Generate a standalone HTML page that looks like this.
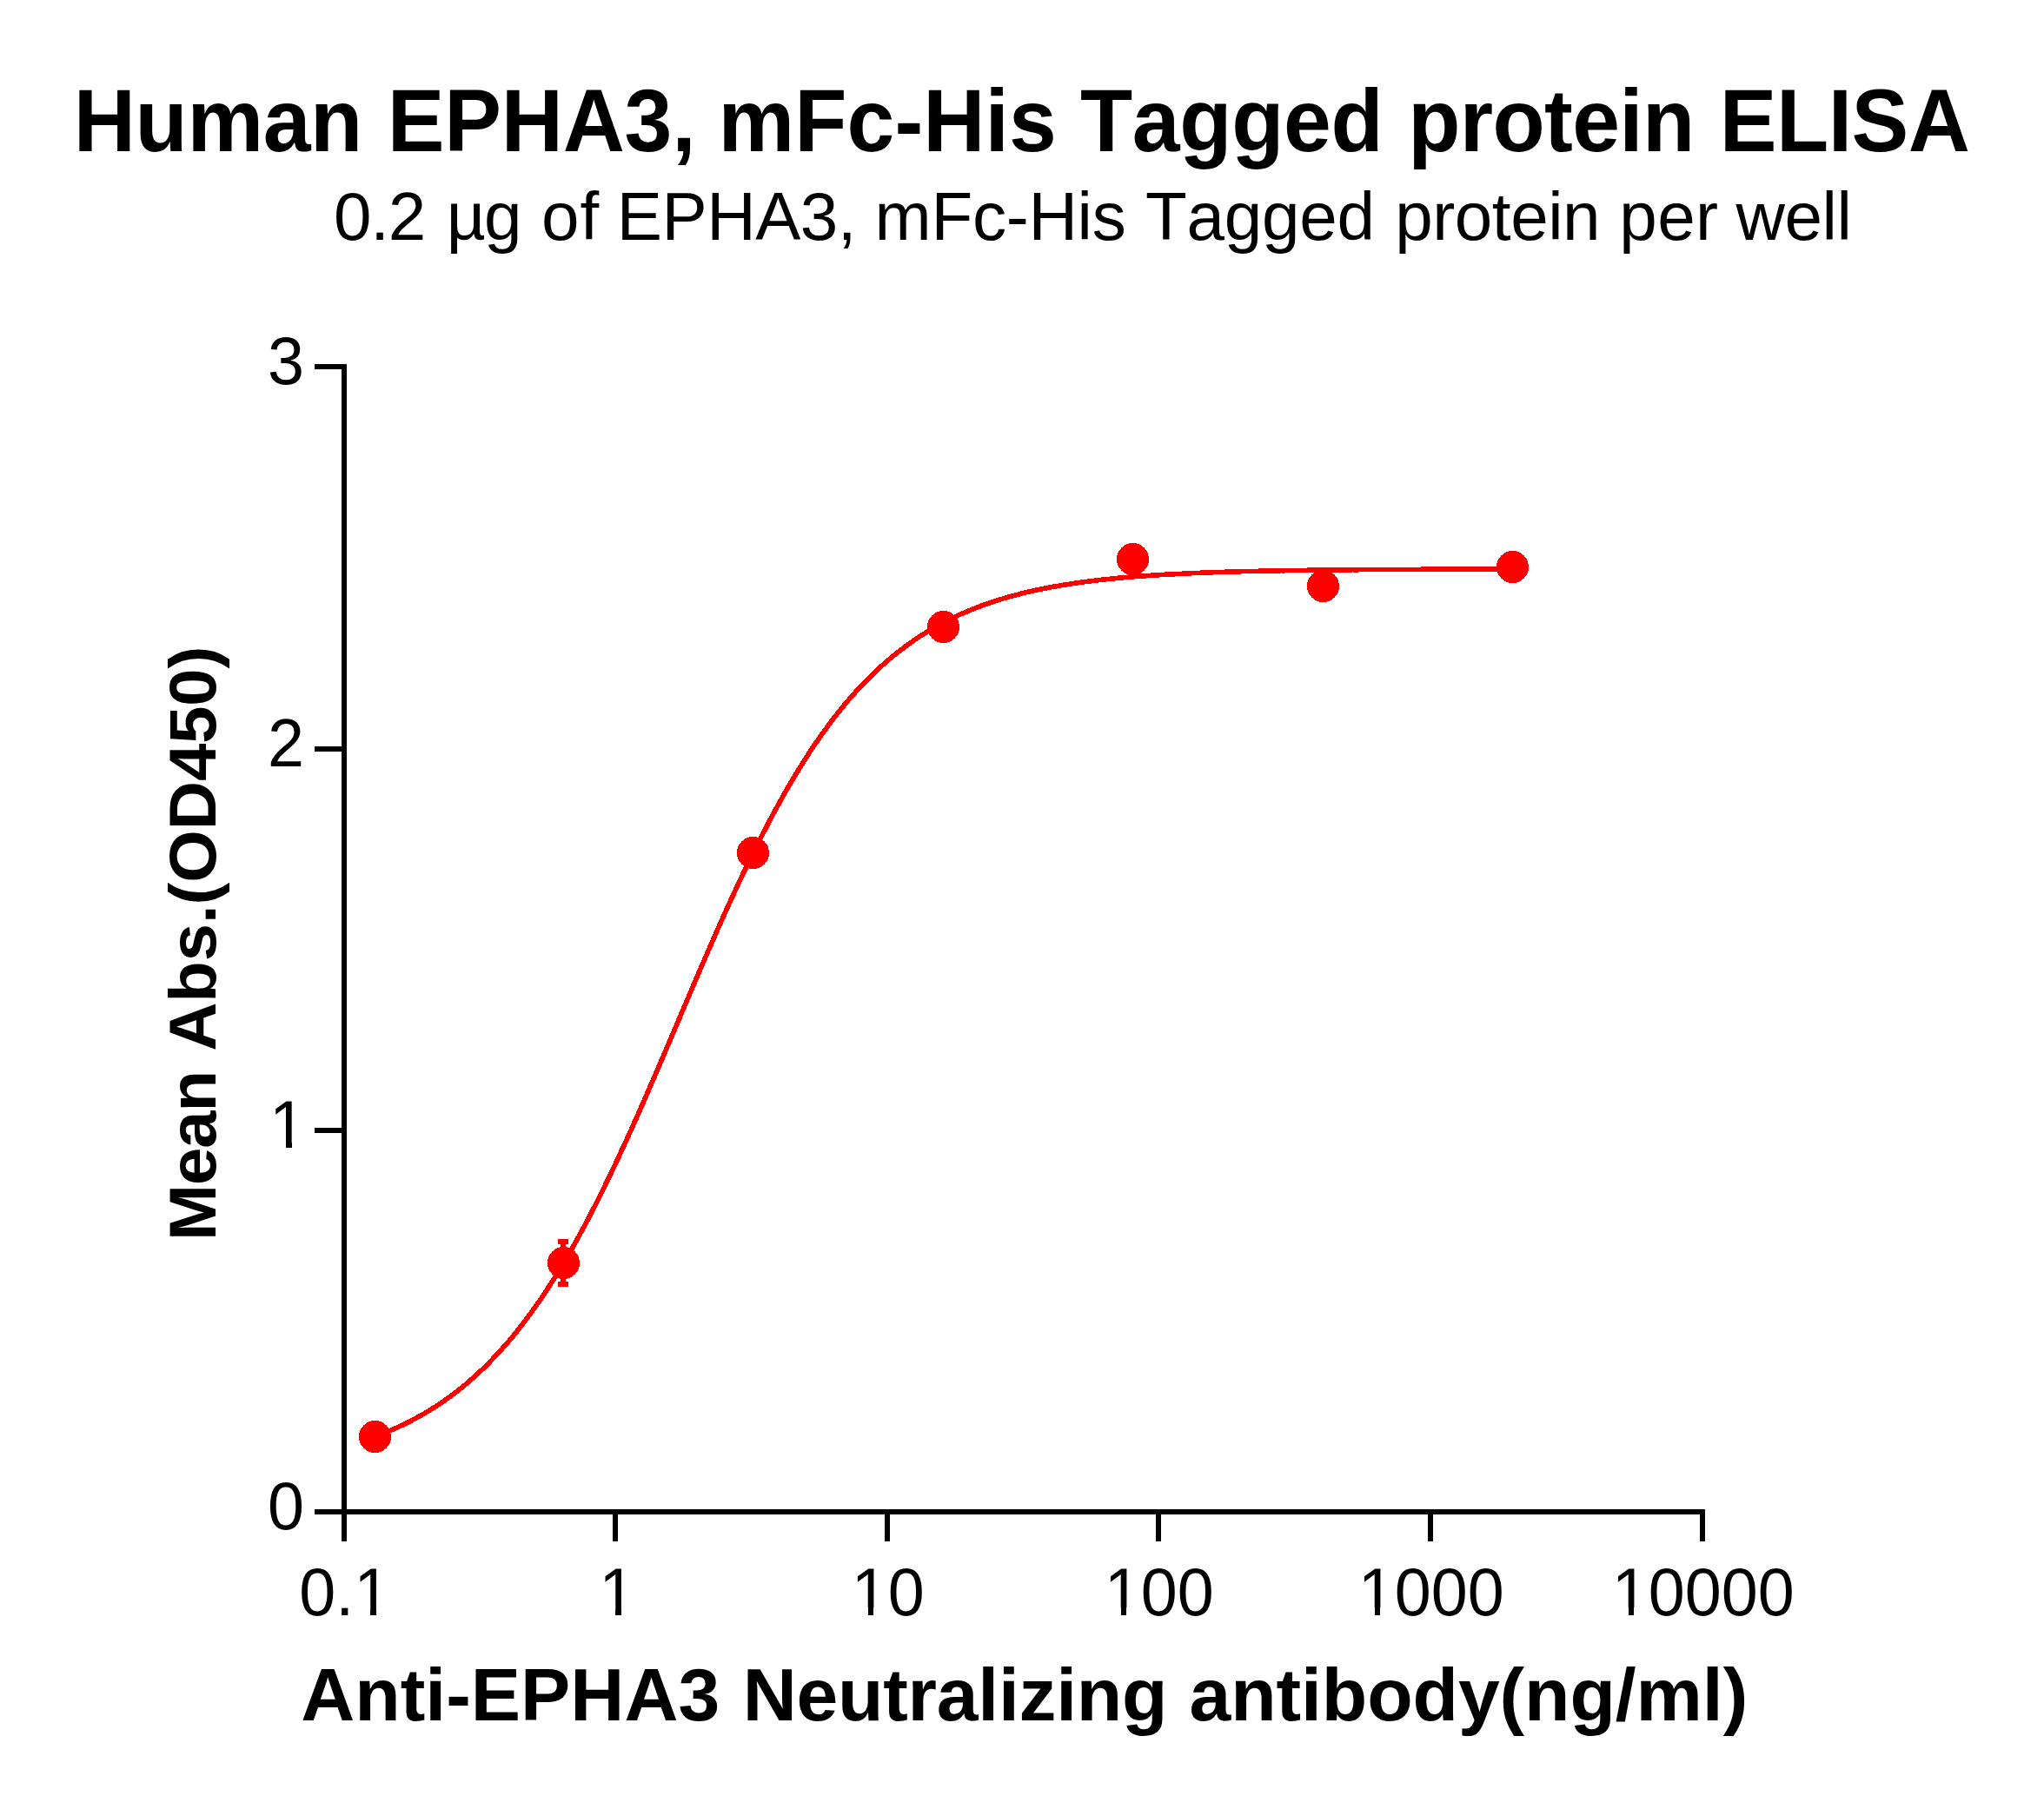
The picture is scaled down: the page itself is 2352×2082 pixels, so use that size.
<!DOCTYPE html>
<html lang="en"><head><meta charset="utf-8"><title>Human EPHA3, mFc-His Tagged protein ELISA</title>
<style>
html,body{margin:0;padding:0;background:#fff}
body{width:2352px;height:2082px;overflow:hidden}
svg{display:block}
text{font-family:"Liberation Sans",sans-serif;fill:#000;white-space:pre;font-kerning:none}
.ax{fill:#000;shape-rendering:crispEdges}
.red{shape-rendering:crispEdges}
</style></head><body>
<svg width="2352" height="2082" viewBox="0 0 2352 2082">
<rect width="2352" height="2082" fill="#fff"/>
<text transform="translate(0,174) scale(1,1.035)" font-size="98.6" font-weight="bold"><tspan x="84.8" letter-spacing="-0.4">Human </tspan><tspan x="445.8" letter-spacing="-0.28">EPHA3, </tspan><tspan x="826.6" letter-spacing="0.033">mFc-His </tspan><tspan x="1243.0" letter-spacing="-0.38">Tagged </tspan><tspan x="1620.2" letter-spacing="-0.667">protein </tspan><tspan x="1978.8" letter-spacing="-0.55">ELISA</tspan></text>
<text transform="translate(0,276) scale(1,0.985)" font-size="78.2" font-weight="normal"><tspan x="384.0" letter-spacing="-1.25">0.2 </tspan><tspan x="513.8" letter-spacing="-1.8">µg </tspan><tspan x="622.9" letter-spacing="1.0">of </tspan><tspan x="709.8" letter-spacing="-0.48">EPHA3, </tspan><tspan x="1006.6" letter-spacing="-0.3">mFc-His </tspan><tspan x="1318.1" letter-spacing="-0.26">Tagged </tspan><tspan x="1605.2" letter-spacing="-0.45">protein </tspan><tspan x="1863.3" letter-spacing="0.35">per </tspan><tspan x="1997.4" letter-spacing="-0.367">well</tspan></text>
<text transform="translate(0,1979.8) scale(1,0.99)" font-size="85.9" font-weight="bold"><tspan x="346.3" letter-spacing="-0.011">Anti-EPHA3 </tspan><tspan x="854.7" letter-spacing="-0.245">Neutralizing </tspan><tspan x="1368.5" letter-spacing="-0.1">antibody(ng/ml)</tspan></text>
<text transform="translate(248.1,1423) rotate(-90) scale(1,0.98)" font-size="77.9" font-weight="bold"><tspan x="-5.0" letter-spacing="-0.967">Mean </tspan><tspan x="213.2" letter-spacing="-0.12">Abs.(OD450)</tspan></text>
<g class="ax">
<rect x="393" y="419" width="6" height="1355"/>
<rect x="362" y="1737" width="1600" height="6"/>
<rect x="362" y="1298" width="31" height="6"/>
<rect x="362" y="859" width="31" height="6"/>
<rect x="362" y="419" width="31" height="6"/>
<rect x="705" y="1743" width="6" height="31"/>
<rect x="1018" y="1743" width="6" height="31"/>
<rect x="1330" y="1743" width="6" height="31"/>
<rect x="1643" y="1743" width="6" height="31"/>
<rect x="1956" y="1743" width="6" height="31"/>
</g>
<text transform="translate(350,1760) scale(1,1.03)" font-size="75.5" text-anchor="end">0</text>
<text transform="translate(352,1321) scale(1,1.03)" font-size="75.5" text-anchor="end">1</text>
<text transform="translate(350,882) scale(1,1.03)" font-size="75.5" text-anchor="end">2</text>
<text transform="translate(350,442) scale(1,1.03)" font-size="75.5" text-anchor="end">3</text>
<text transform="translate(396.8,1859.3) scale(1,1.03)" font-size="75.5" text-anchor="middle">0.1</text>
<text transform="translate(710.3,1859.3) scale(1,1.03)" font-size="75.5" text-anchor="middle">1</text>
<text transform="translate(1021.8,1859.3) scale(1,1.03)" font-size="75.5" text-anchor="middle">10</text>
<text transform="translate(1333.8,1859.3) scale(1,1.03)" font-size="75.5" text-anchor="middle">100</text>
<text transform="translate(1646.8,1859.3) scale(1,1.03)" font-size="75.5" text-anchor="middle">1000</text>
<text transform="translate(1959.8,1859.3) scale(1,1.03)" font-size="75.5" text-anchor="middle">10000</text>
<g fill="#fff"><rect x="411" y="1850" width="15" height="14"/><rect x="433" y="1850" width="15" height="14"/><rect x="693" y="1850" width="15" height="14"/><rect x="715" y="1850" width="15" height="14"/><rect x="983" y="1850" width="16" height="14"/><rect x="1005" y="1850" width="15" height="14"/><rect x="1274" y="1850" width="16" height="14"/><rect x="1296" y="1850" width="15" height="14"/><rect x="1566" y="1850" width="16" height="14"/><rect x="1588" y="1850" width="15" height="14"/><rect x="1858" y="1850" width="16" height="14"/><rect x="1880" y="1850" width="15" height="14"/><rect x="313" y="1311" width="16" height="14"/><rect x="336" y="1311" width="15" height="14"/></g>
<g class="red" fill="#f00" stroke="none">
<path d="M431.5,1653.4 L434.8,1652.2 L438.1,1650.9 L441.3,1649.6 L444.6,1648.3 L447.9,1646.9 L451.2,1645.5 L454.5,1644.1 L457.7,1642.6 L461.0,1641.1 L464.3,1639.5 L467.6,1637.9 L470.9,1636.2 L474.1,1634.6 L477.4,1632.8 L480.7,1631.0 L484.0,1629.2 L487.3,1627.3 L490.6,1625.4 L493.8,1623.4 L497.1,1621.4 L500.4,1619.3 L503.7,1617.2 L507.0,1615.0 L510.2,1612.8 L513.5,1610.5 L516.8,1608.1 L520.1,1605.7 L523.4,1603.2 L526.6,1600.7 L529.9,1598.1 L533.2,1595.4 L536.5,1592.7 L539.8,1589.9 L543.0,1587.0 L546.3,1584.1 L549.6,1581.1 L552.9,1578.0 L556.2,1574.9 L559.4,1571.7 L562.7,1568.4 L566.0,1565.0 L569.3,1561.6 L572.6,1558.1 L575.9,1554.5 L579.1,1550.8 L582.4,1547.1 L585.7,1543.3 L589.0,1539.4 L592.3,1535.4 L595.5,1531.3 L598.8,1527.1 L602.1,1522.9 L605.4,1518.6 L608.7,1514.2 L611.9,1509.7 L615.2,1505.1 L618.5,1500.4 L621.8,1495.7 L625.1,1490.8 L628.3,1485.9 L631.6,1480.9 L634.9,1475.7 L638.2,1470.5 L641.5,1465.3 L644.7,1459.9 L648.0,1454.4 L651.3,1448.9 L654.6,1443.2 L657.9,1437.5 L661.1,1431.7 L664.4,1425.8 L667.7,1419.8 L671.0,1413.7 L674.3,1407.6 L677.6,1401.4 L680.8,1395.0 L684.1,1388.7 L687.4,1382.2 L690.7,1375.6 L694.0,1369.0 L697.2,1362.3 L700.5,1355.6 L703.8,1348.7 L707.1,1341.8 L710.4,1334.8 L713.6,1327.8 L716.9,1320.7 L720.2,1313.6 L723.5,1306.3 L726.8,1299.1 L730.0,1291.8 L733.3,1284.4 L736.6,1277.0 L739.9,1269.5 L743.2,1262.0 L746.4,1254.5 L749.7,1246.9 L753.0,1239.3 L756.3,1231.7 L759.6,1224.0 L762.9,1216.4 L766.1,1208.7 L769.4,1201.0 L772.7,1193.3 L776.0,1185.5 L779.3,1177.8 L782.5,1170.1 L785.8,1162.4 L789.1,1154.6 L792.4,1146.9 L795.7,1139.2 L798.9,1131.5 L802.2,1123.9 L805.5,1116.2 L808.8,1108.6 L812.1,1101.0 L815.3,1093.5 L818.6,1086.0 L821.9,1078.5 L825.2,1071.0 L828.5,1063.6 L831.7,1056.3 L835.0,1049.0 L838.3,1041.7 L841.6,1034.5 L844.9,1027.4 L848.1,1020.3 L851.4,1013.3 L854.7,1006.4 L858.0,999.5 L861.3,992.7 L864.6,985.9 L867.8,979.3 L871.1,972.7 L874.4,966.2 L877.7,959.7 L881.0,953.4 L884.2,947.1 L887.5,940.9 L890.8,934.7 L894.1,928.7 L897.4,922.8 L900.6,916.9 L903.9,911.1 L907.2,905.4 L910.5,899.8 L913.8,894.3 L917.0,888.9 L920.3,883.5 L923.6,878.3 L926.9,873.1 L930.2,868.0 L933.4,863.0 L936.7,858.1 L940.0,853.3 L943.3,848.6 L946.6,843.9 L949.9,839.4 L953.1,834.9 L956.4,830.5 L959.7,826.2 L963.0,822.0 L966.3,817.9 L969.5,813.9 L972.8,809.9 L976.1,806.0 L979.4,802.2 L982.7,798.5 L985.9,794.9 L989.2,791.3 L992.5,787.8 L995.8,784.4 L999.1,781.1 L1002.3,777.8 L1005.6,774.6 L1008.9,771.5 L1012.2,768.5 L1015.5,765.5 L1018.7,762.6 L1022.0,759.8 L1025.3,757.0 L1028.6,754.3 L1031.9,751.7 L1035.1,749.1 L1038.4,746.6 L1041.7,744.1 L1045.0,741.7 L1048.3,739.4 L1051.6,737.1 L1054.8,734.9 L1058.1,732.7 L1061.4,730.6 L1064.7,728.5 L1068.0,726.5 L1071.2,724.6 L1074.5,722.7 L1077.8,720.8 L1081.1,719.0 L1084.4,717.2 L1087.6,715.5 L1090.9,713.8 L1094.2,712.2 L1097.5,710.6 L1100.8,709.1 L1104.0,707.5 L1107.3,706.1 L1110.6,704.7 L1113.9,703.3 L1117.2,701.9 L1120.4,700.6 L1123.7,699.3 L1127.0,698.1 L1130.3,696.8 L1133.6,695.7 L1136.9,694.5 L1140.1,693.4 L1143.4,692.3 L1146.7,691.2 L1150.0,690.2 L1153.3,689.2 L1156.5,688.2 L1159.8,687.3 L1163.1,686.4 L1166.4,685.5 L1169.7,684.6 L1172.9,683.8 L1176.2,682.9 L1179.5,682.1 L1182.8,681.3 L1186.1,680.6 L1189.3,679.9 L1192.6,679.1 L1195.9,678.4 L1199.2,677.8 L1202.5,677.1 L1205.7,676.5 L1209.0,675.8 L1212.3,675.2 L1215.6,674.7 L1218.9,674.1 L1222.1,673.5 L1225.4,673.0 L1228.7,672.5 L1232.0,672.0 L1235.3,671.5 L1238.6,671.0 L1241.8,670.5 L1245.1,670.1 L1248.4,669.6 L1251.7,669.2 L1255.0,668.8 L1258.2,668.4 L1261.5,668.0 L1264.8,667.6 L1268.1,667.2 L1271.4,666.9 L1274.6,666.5 L1277.9,666.2 L1281.2,665.9 L1284.5,665.5 L1287.8,665.2 L1291.0,664.9 L1294.3,664.6 L1297.6,664.4 L1300.9,664.1 L1304.2,663.8 L1307.4,663.5 L1310.7,663.3 L1314.0,663.0 L1317.3,662.8 L1320.6,662.6 L1323.9,662.3 L1327.1,662.1 L1330.4,661.9 L1333.7,661.7 L1337.0,661.5 L1340.3,661.3 L1343.5,661.1 L1346.8,660.9 L1350.1,660.8 L1353.4,660.6 L1356.7,660.4 L1359.9,660.3 L1363.2,660.1 L1366.5,659.9 L1369.8,659.8 L1373.1,659.6 L1376.3,659.5 L1379.6,659.4 L1382.9,659.2 L1386.2,659.1 L1389.5,659.0 L1392.7,658.9 L1396.0,658.7 L1399.3,658.6 L1402.6,658.5 L1405.9,658.4 L1409.1,658.3 L1412.4,658.2 L1415.7,658.1 L1419.0,658.0 L1422.3,657.9 L1425.6,657.8 L1428.8,657.7 L1432.1,657.6 L1435.4,657.6 L1438.7,657.5 L1442.0,657.4 L1445.2,657.3 L1448.5,657.3 L1451.8,657.2 L1455.1,657.1 L1458.4,657.0 L1461.6,657.0 L1464.9,656.9 L1468.2,656.9 L1471.5,656.8 L1474.8,656.7 L1478.0,656.7 L1481.3,656.6 L1484.6,656.6 L1487.9,656.5 L1491.2,656.5 L1494.4,656.4 L1497.7,656.4 L1501.0,656.3 L1504.3,656.3 L1507.6,656.2 L1510.9,656.2 L1514.1,656.2 L1517.4,656.1 L1520.7,656.1 L1524.0,656.0 L1527.3,656.0 L1530.5,656.0 L1533.8,655.9 L1537.1,655.9 L1540.4,655.9 L1543.7,655.8 L1546.9,655.8 L1550.2,655.8 L1553.5,655.8 L1556.8,655.7 L1560.1,655.7 L1563.3,655.7 L1566.6,655.6 L1569.9,655.6 L1573.2,655.6 L1576.5,655.6 L1579.7,655.6 L1583.0,655.5 L1586.3,655.5 L1589.6,655.5 L1592.9,655.5 L1596.1,655.5 L1599.4,655.4 L1602.7,655.4 L1606.0,655.4 L1609.3,655.4 L1612.6,655.4 L1615.8,655.3 L1619.1,655.3 L1622.4,655.3 L1625.7,655.3 L1629.0,655.3 L1632.2,655.3 L1635.5,655.3 L1638.8,655.2 L1642.1,655.2 L1645.4,655.2 L1648.6,655.2 L1651.9,655.2 L1655.2,655.2 L1658.5,655.2 L1661.8,655.2 L1665.0,655.2 L1668.3,655.1 L1671.6,655.1 L1674.9,655.1 L1678.2,655.1 L1681.4,655.1 L1684.7,655.1 L1688.0,655.1 L1691.3,655.1 L1694.6,655.1 L1697.9,655.1 L1701.1,655.1 L1704.4,655.0 L1707.7,655.0 L1711.0,655.0 L1714.3,655.0 L1717.5,655.0 L1720.8,655.0 L1724.1,655.0 L1727.4,655.0 L1730.7,655.0 L1733.9,655.0 L1737.2,655.0 L1740.5,655.0" fill="none" stroke="#f00" stroke-width="5.6" stroke-linejoin="round"/>
<rect x="645" y="1426" width="6" height="55"/><rect x="642" y="1426" width="12" height="6"/><rect x="642" y="1475" width="12" height="6"/>
<circle cx="431.5" cy="1653.5" r="18.5"/>
<circle cx="648.5" cy="1453.5" r="18.5"/>
<circle cx="866.5" cy="981.5" r="18.5"/>
<circle cx="1085.5" cy="721.5" r="18.5"/>
<circle cx="1303.5" cy="643.5" r="18.5"/>
<circle cx="1522.5" cy="674.5" r="18.5"/>
<circle cx="1740.5" cy="652.5" r="18.5"/>
</g>
</svg></body></html>
